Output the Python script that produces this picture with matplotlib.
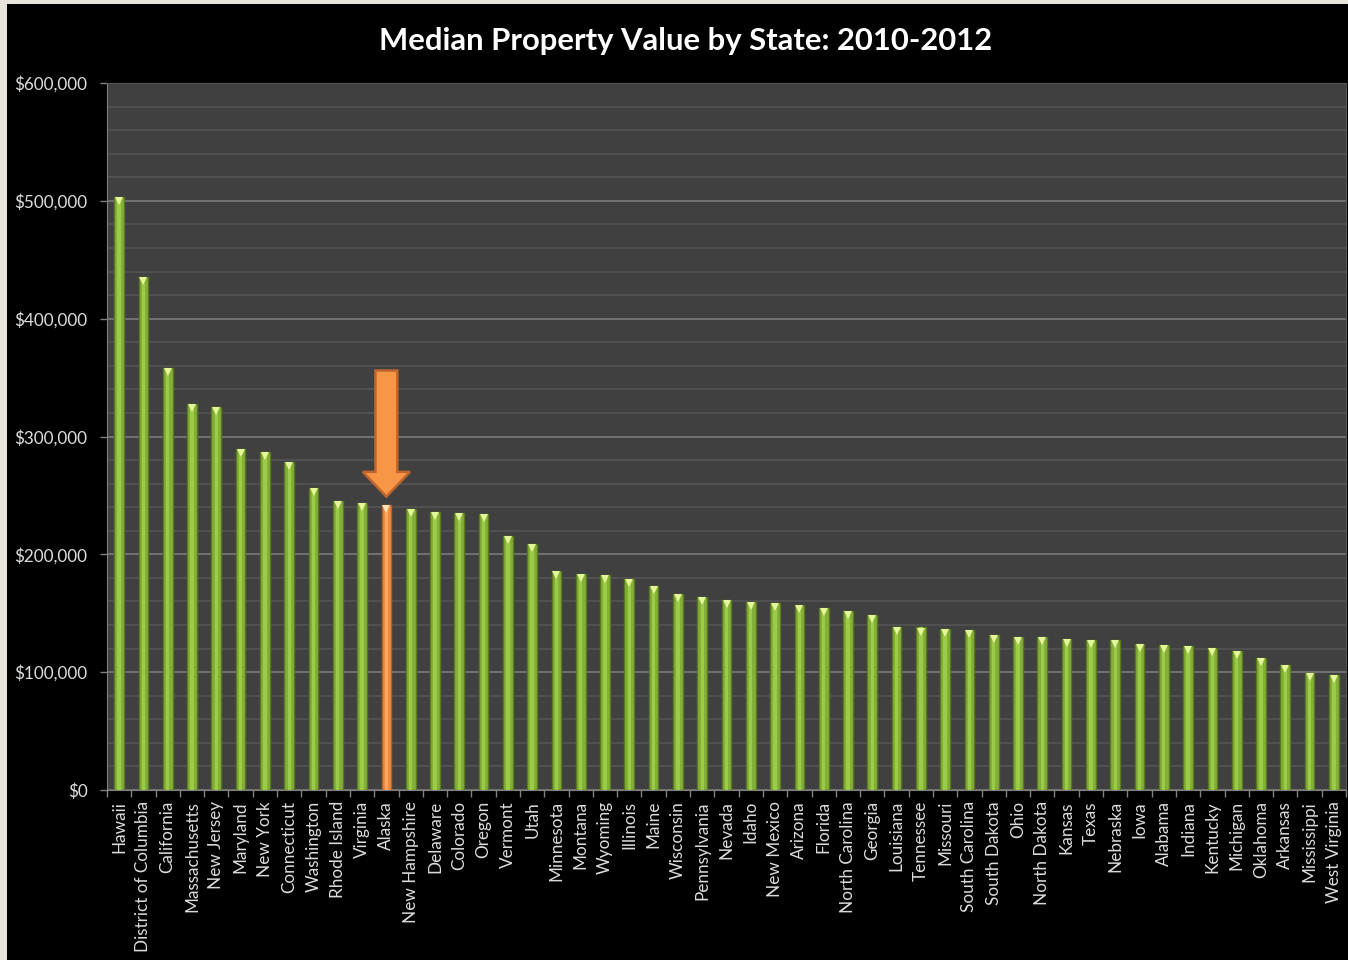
import matplotlib
matplotlib.use("Agg")
import matplotlib.pyplot as plt
from matplotlib.patches import Polygon, Rectangle
from matplotlib.ticker import FuncFormatter, MultipleLocator, FixedLocator
import numpy as np

# median home value by state, 2010-2012 (dollars)
states = ["Hawaii", "District of Columbia", "California", "Massachusetts", "New Jersey",
          "Maryland", "New York", "Connecticut", "Washington", "Rhode Island", "Virginia",
          "Alaska", "New Hampshire", "Delaware", "Colorado", "Oregon", "Vermont", "Utah",
          "Minnesota", "Montana", "Wyoming", "Illinois", "Maine", "Wisconsin", "Pennsylvania",
          "Nevada", "Idaho", "New Mexico", "Arizona", "Florida", "North Carolina", "Georgia",
          "Louisiana", "Tennessee", "Missouri", "South Carolina", "South Dakota", "Ohio",
          "North Dakota", "Kansas", "Texas", "Nebraska", "Iowa", "Alabama", "Indiana",
          "Kentucky", "Michigan", "Oklahoma", "Arkansas", "Mississippi", "West Virginia"]
values = [503000, 435400, 358100, 327900, 325300,
          289100, 286600, 278100, 256000, 245500, 243300,
          241600, 238700, 235700, 234800, 234000, 215800, 208500,
          185900, 183300, 182500, 179300, 173100, 166300, 164000,
          161200, 159600, 158700, 157300, 154200, 151900, 148800,
          138500, 138000, 136400, 135800, 131300, 129600,
          129600, 128100, 127300, 127300, 123600, 122800, 122000,
          120300, 118200, 112000, 106100, 99000, 97600]
highlight = "Alaska"

# arrow pointing at the highlighted state (value coords)
arrow_top = 356000
arrow_head_base = 270000
arrow_tip = 249000

green = "#84b03a"
green_light = "#9ccb48"
green_edge = "#5a7820"
orange = "#f28a3a"
orange_light = "#fba862"
orange_edge = "#b8602a"

fig = plt.figure(figsize=(13.48, 9.6), dpi=100, facecolor="black")
# light frame strips along left and top
fig.patches.append(Rectangle((0, 0), 7 / 1348, 1, transform=fig.transFigure,
                             facecolor="#e9e5dd", edgecolor="none", zorder=0))
fig.patches.append(Rectangle((0, 1 - 4 / 960), 1, 4 / 960, transform=fig.transFigure,
                             facecolor="#e9e5dd", edgecolor="none", zorder=0))

ax = fig.add_axes([107 / 1348, 1 - 790 / 960, (1346 - 107) / 1348, (790 - 83) / 960])
ax.set_facecolor("#404040")

x = np.arange(len(states))
face = [orange if s == highlight else green for s in states]
light = [orange_light if s == highlight else green_light for s in states]
edge = [orange_edge if s == highlight else green_edge for s in states]

ax.bar(x, values, width=0.4, color=face, edgecolor=edge, linewidth=1.0, zorder=3)
ax.bar(x, values, width=0.14, color=light, linewidth=0, zorder=4)
# little bevel at the top of each column
for xi, v, s in zip(x, values, states):
    c = "#ffe0b0" if s == highlight else "#e4f59a"
    ax.plot(xi, v - 3500, marker="v", markersize=5.5, color=c,
            markeredgewidth=0, zorder=5)

i = states.index(highlight)
shaft = 0.45
head = 0.97
arrow = Polygon([(i - shaft, arrow_top), (i + shaft, arrow_top),
                 (i + shaft, arrow_head_base), (i + head, arrow_head_base),
                 (i, arrow_tip), (i - head, arrow_head_base),
                 (i - shaft, arrow_head_base)],
                closed=True, facecolor="#f79646", edgecolor="#c0662c",
                linewidth=1.8, zorder=6)
ax.add_patch(arrow)

ax.set_xlim(-0.5, len(states) - 0.5)
ax.set_ylim(0, 600000)

ax.yaxis.set_major_locator(MultipleLocator(100000))
ax.yaxis.set_minor_locator(MultipleLocator(20000))
ax.yaxis.set_major_formatter(FuncFormatter(lambda v, p: "${:,.0f}".format(v)))
ax.grid(axis="y", which="major", color="#767676", linewidth=1.3, zorder=1)
ax.grid(axis="y", which="minor", color="#565656", linewidth=1.1, zorder=1)
ax.set_axisbelow(True)

ax.set_xticks(x)
ax.set_xticklabels(states, rotation=90)
ax.xaxis.set_minor_locator(FixedLocator(np.arange(-0.5, len(states), 1.0)))

font = "Lato"
ax.tick_params(axis="x", which="major", length=0, pad=8, labelsize=12.3,
               labelcolor="#dcdcdc", labelfontfamily=font)
ax.tick_params(axis="x", which="minor", length=5, color="#808080", width=1)
ax.tick_params(axis="y", which="major", length=5, color="#808080", width=1, pad=9,
               labelsize=12.3, labelcolor="#dcdcdc", labelfontfamily=font)
ax.tick_params(axis="y", which="minor", length=0)

for side in ["top", "right"]:
    ax.spines[side].set_color("#555555")
for side in ["left", "bottom"]:
    ax.spines[side].set_color("#808080")

fig.text(686 / 1348, 1 - 41 / 960, "Median Property Value by State: 2010-2012",
         color="white", fontsize=22.3, fontweight="bold", family=font,
         ha="center", va="center")

fig.savefig("out.png", dpi=100, facecolor=fig.get_facecolor())
